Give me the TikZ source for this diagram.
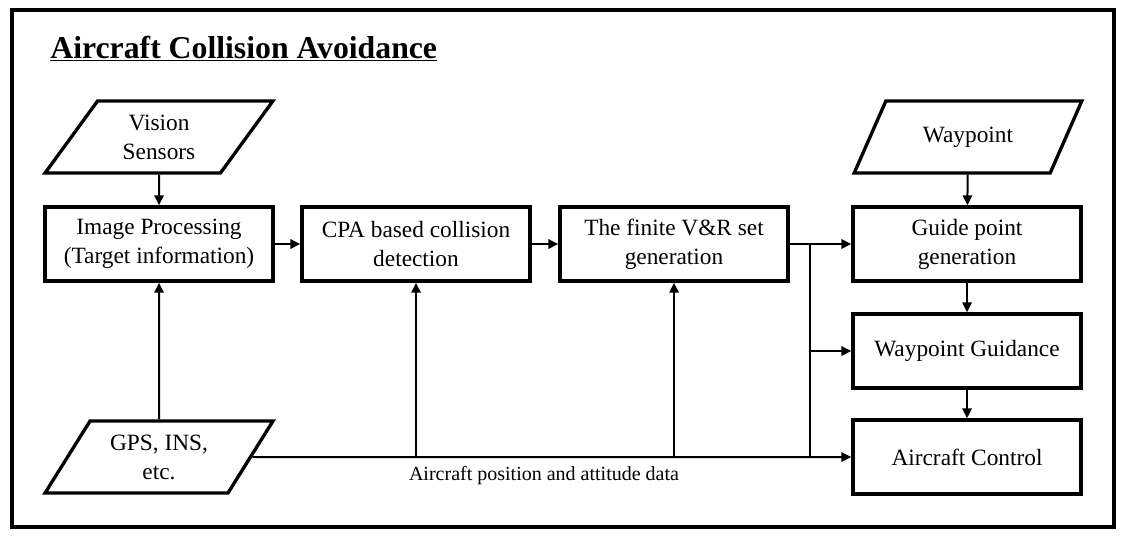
\documentclass[tikz,border=0pt]{standalone}
\usepackage{fontspec}
\setmainfont{Liberation Serif}
\usetikzlibrary{arrows.meta, shapes.geometric}

\begin{document}
\begin{tikzpicture}[
            x = 0.75pt, y = -0.75pt, % pixel grid, y going down
            > = {Triangle[length = 7.5pt, width = 7pt]}, % arrow head style
            semithick % line style
        ]

        \tikzstyle{block}=[
            draw = black,
            line width = 2.5pt,
            fill = white,
            align = center,
            minimum width = 171pt,
            minimum height = 55.5pt,
            font = \fontsize{17.5}{21.75}\selectfont
        ]
        \tikzstyle{io}=[
            block,
            trapezium,
            trapezium left angle = 57,
            trapezium right angle = 123,
            trapezium stretches = true,
            minimum width = 171pt,
            minimum height = 54pt
        ]
        \tikzstyle{link}=[line width = 1.5pt]

        \useasboundingbox (0,0) rectangle (1126,539);
        \draw[line width = 3pt] (12,10) rectangle (1114,527);

        \node[anchor = base west, inner sep = 0pt, font = \fontsize{23.8}{28}\selectfont] (title) at (50,58) {\underline{\textbf{Aircraft Collision Avoidance}}};

        \node[io] (vis) at (159,137) {Vision\\Sensors};
        \node[block] (img) at (159,244) {Image Processing\\(Target information)};
        \node[block] (cpa) at (416,244) {CPA based collision\\detection};
        \node[block] (vr) at (674,244) {The finite V\&R set\\generation};
        \node[io] (wpt) at (968,137) {Waypoint};
        \node[block] (guide) at (967,244) {Guide point\\generation};
        \node[block] (wguid) at (967,351) {Waypoint Guidance};
        \node[block] (ctrl) at (967,457) {Aircraft Control};
        \node[io] (gps) at (159,457) {GPS, INS,\\etc.};
        \node[font = \fontsize{15}{18}\selectfont] (data) at (544,476) {Aircraft position and attitude data};

        \coordinate (jtop) at (810,244);
        \coordinate (jbot) at (810,457);

        \path[->, link] (vis) edge (img);
        \path[->, link] (gps) edge (img);
        \path[->, link] (img) edge (cpa);
        \path[->, link] (cpa) edge (vr);
        \path[->, link] (vr) edge (guide);
        \path[->, link] (wpt) edge (guide);
        \path[->, link] (guide) edge (wguid);
        \path[->, link] (wguid) edge (ctrl);
        \draw[link] (jtop) -- (jbot);
        \draw[->, link] (jtop |- wguid.west) -- (wguid.west);
        \draw[->, link] (gps.east) -- (ctrl.west);
        \draw[->, link] (gps.east -| cpa.south) -- (cpa.south);
        \draw[->, link] (gps.east -| vr.south) -- (vr.south);

    \end{tikzpicture}
\end{document}
